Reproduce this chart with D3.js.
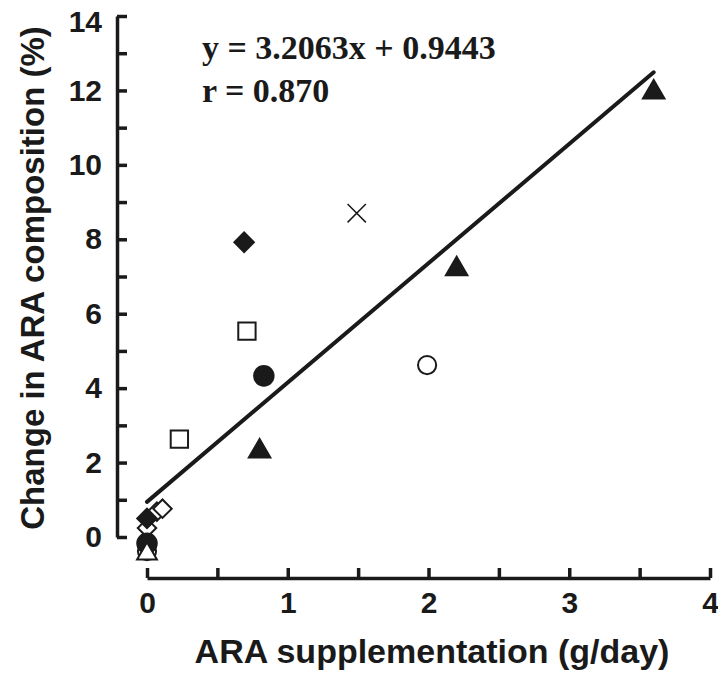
<!DOCTYPE html>
<html>
<head>
<meta charset="utf-8">
<script src="https://cdn.jsdelivr.net/npm/d3@7"></script>
<style>
  body { margin: 0; background: #fff; }
  svg text { fill: #1a1a1a; }
</style>
</head>
<body>
<div id="chart"></div>
<script>
// points, grouped by marker type: [x g/day, y %]
var filledTriangles = [[0.8, 2.3], [2.2, 7.2], [3.6, 11.95]];
var openTriangles   = [[0, -0.45]];
var filledCircles   = [[0.83, 4.33], [0, -0.17]];
var openCircles     = [[1.99, 4.62], [0, -0.38]];
var openSquares     = [[0.23, 2.63], [0.71, 5.53]];
var filledDiamonds  = [[0.69, 7.92], [0, 0.5]];
var openDiamonds    = [[0, 0.24], [0.07, 0.68], [0.11, 0.76]];
var crosses         = [[1.49, 8.7]];

var slope = 3.2063, intercept = 0.9443, fitRange = [0, 3.6];
var eqLines = ['y = 3.2063x + 0.9443', 'r = 0.870'];

var xTicks = [0, 0.5, 1, 1.5, 2, 2.5, 3, 3.5, 4];
var yTicks = [0, 1, 2, 3, 4, 5, 6, 7, 8, 9, 10, 11, 12, 13, 14];

var App = {};

App.main = function() {
  App.width = 718;
  App.height = 675;
  App.svg = d3.select('#chart').append('svg')
    .attr('width', App.width)
    .attr('height', App.height);

  App.x = d3.scaleLinear().domain([0, 4]).range([147, 710]);
  App.y = d3.scaleLinear().domain([0, 14]).range([537, 16]);

  App.initAxes();
  App.initFit();
  App.initPoints();
}

App.initAxes = function() {
  var ink = '#1a1a1a';
  var xAxis = d3.axisBottom(App.x)
    .tickValues(xTicks).tickSizeInner(-10).tickSizeOuter(0).tickPadding(14)
    .tickFormat(function(d) { return d % 1 === 0 ? d : ''; });
  var yAxis = d3.axisLeft(App.y)
    .tickValues(yTicks).tickSizeInner(-10).tickSizeOuter(0).tickPadding(15)
    .tickFormat(function(d) { return d % 2 === 0 ? d : ''; });

  var gx = App.svg.append('g').attr('transform', 'translate(0,578)').call(xAxis);
  var gy = App.svg.append('g').attr('transform', 'translate(117,0)').call(yAxis);

  [gx, gy].forEach(function(g) {
    g.select('.domain').attr('stroke', ink).attr('stroke-width', 3.5);
    g.selectAll('.tick line').attr('stroke', ink).attr('stroke-width', 3.5);
    g.selectAll('.tick text')
      .attr('font-family', 'Liberation Sans, Arial, sans-serif')
      .attr('font-weight', 'bold').attr('font-size', 30).attr('fill', ink);
  });
  // top label sits a little low so it stays on the page
  gy.selectAll('.tick text').filter(function(d) { return d === 14; }).attr('dy', '0.5em');

  App.svg.append('text')
    .attr('x', 432).attr('y', 663)
    .attr('text-anchor', 'middle')
    .attr('font-family', 'Liberation Sans, Arial, sans-serif')
    .attr('font-weight', 'bold').attr('font-size', 34)
    .text('ARA supplementation (g/day)');

  App.svg.append('text')
    .attr('transform', 'translate(44,278) rotate(-90)')
    .attr('text-anchor', 'middle')
    .attr('font-family', 'Liberation Sans, Arial, sans-serif')
    .attr('font-weight', 'bold').attr('font-size', 33)
    .text('Change in ARA composition (%)');

  App.svg.selectAll('text.eq').data(eqLines)
    .enter().append('text').attr('class', 'eq')
    .attr('x', 202)
    .attr('y', function(d, i) { return 59 + i * 43; })
    .attr('font-family', 'Liberation Serif, Times New Roman, serif')
    .attr('font-weight', 'bold').attr('font-size', 34)
    .text(function(d) { return d; });
}

App.initFit = function() {
  App.svg.append('line')
    .attr('x1', App.x(fitRange[0])).attr('y1', App.y(slope * fitRange[0] + intercept))
    .attr('x2', App.x(fitRange[1])).attr('y2', App.y(slope * fitRange[1] + intercept))
    .attr('stroke', '#1a1a1a').attr('stroke-width', 4).attr('stroke-linecap', 'round');
}

App.initPoints = function() {
  var ink = '#1a1a1a';
  var sets = [
    { data: openDiamonds,   type: d3.symbolSquare,   size: 170, fill: '#fff', rot: 45 },
    { data: filledDiamonds, type: d3.symbolSquare,   size: 190, fill: ink,    rot: 45 },
    { data: openSquares,    type: d3.symbolSquare,   size: 300, fill: '#fff', rot: 0 },
    { data: openCircles,    type: d3.symbolCircle,   size: 260, fill: '#fff', rot: 0 },
    { data: filledCircles,  type: d3.symbolCircle,   size: 300, fill: ink,    rot: 0 },
    { data: openTriangles,  type: d3.symbolTriangle, size: 170, fill: '#fff', rot: 0 },
    { data: filledTriangles,type: d3.symbolTriangle, size: 200, fill: ink,    rot: 0 },
    { data: crosses,        type: d3.symbolTimes,    size: 220, fill: 'none', rot: 0 }
  ];

  sets.forEach(function(s) {
    App.svg.append('g').selectAll('path').data(s.data)
      .enter().append('path')
      .attr('d', d3.symbol().type(s.type).size(s.size))
      .attr('transform', function(d) {
        return 'translate(' + App.x(d[0]) + ',' + App.y(d[1]) + ') rotate(' + s.rot + ')';
      })
      .attr('fill', s.fill)
      .attr('stroke', ink)
      .attr('stroke-width', s.type === d3.symbolTimes ? 1.5 : 2);
  });
}

App.main();
</script>
</body>
</html>
